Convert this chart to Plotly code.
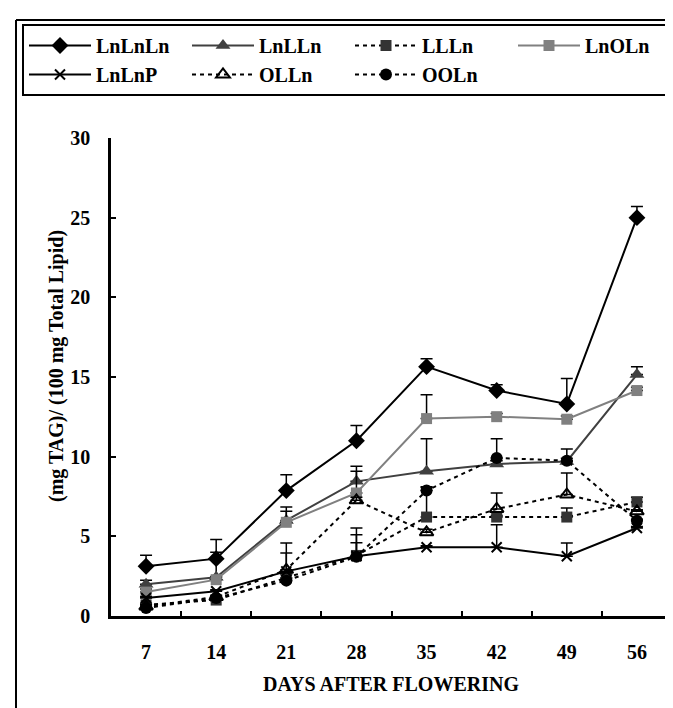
import plotly.graph_objects as go

days = ["7", "14", "21", "28", "35", "42", "49", "56"]

LnLnLn = [3.12, 3.6, 7.87, 11.0, 15.65, 14.15, 13.31, 25.0]
LnLnLn_err = [0.7, 1.2, 1.0, 0.95, 0.5, 0.37, 1.6, 0.7]

LnLLn = [2.0, 2.43, 6.0, 8.45, 9.08, 9.54, 9.7, 15.15]
LnLLn_err = [0.25, 1.57, 0.84, 0.95, 2.05, 0.2, 0.2, 0.5]

LLLn = [0.7, 1.0, 2.4, 3.8, 6.21, 6.21, 6.21, 7.16]
LLLn_err = [0.1, 0.1, 0.2, 1.3, 1.9, 0.1, 0.57, 0.3]

LnOLn = [1.5, 2.28, 5.88, 7.72, 12.39, 12.51, 12.35, 14.15]
LnOLn_err = [0.2, 0.2, 0.7, 1.36, 1.5, 0.2, 0.2, 0.2]

LnLnP = [1.13, 1.55, 2.8, 3.75, 4.31, 4.31, 3.75, 5.52]
LnLnP_err = [0.1, 0.1, 1.78, 0.85, 0.1, 1.42, 0.83, 0.1]

OLLn = [0.6, 1.2, 2.9, 7.26, 5.25, 6.72, 7.62, 6.57]
OLLn_err = [0.1, 0.1, 1.05, 0.2, 0.2, 1.0, 1.36, 0.1]

OOLn = [0.5, 1.13, 2.22, 3.72, 7.87, 9.92, 9.75, 5.98]
OOLn_err = [0.1, 0.1, 0.1, 1.8, 0.2, 1.2, 0.73, 0.1]

FONT = "Liberation Serif"

series = [
    ("LnLnLn", LnLnLn, LnLnLn_err, dict(color="black", width=2, dash="solid"),
     dict(symbol="diamond", size=13, color="black")),
    ("LnLLn", LnLLn, LnLLn_err, dict(color="#404040", width=2, dash="solid"),
     dict(symbol="triangle-up", size=13, color="#404040")),
    ("LLLn", LLLn, LLLn_err, dict(color="black", width=2, dash="4px,4px"),
     dict(symbol="square", size=11, color="#333333")),
    ("LnOLn", LnOLn, LnOLn_err, dict(color="#808080", width=2, dash="solid"),
     dict(symbol="square", size=11, color="#808080")),
    ("LnLnP", LnLnP, LnLnP_err, dict(color="black", width=2, dash="solid"),
     dict(symbol="x-thin", size=10, color="black", line=dict(width=2, color="black"))),
    ("OLLn", OLLn, OLLn_err, dict(color="black", width=2, dash="4px,4px"),
     dict(symbol="triangle-up-open", size=12, color="black", line=dict(width=2, color="black"))),
    ("OOLn", OOLn, OOLn_err, dict(color="black", width=2, dash="4px,4px"),
     dict(symbol="circle", size=12, color="black")),
]

fig = go.Figure()
for name, vals, err, line, marker in series:
    fig.add_trace(go.Scatter(
        x=days, y=vals, name=name, mode="lines+markers",
        line=line, marker=marker,
        error_y=dict(type="data", array=err, arrayminus=[0] * len(err),
                     symmetric=False, color="black", thickness=1.5, width=6),
    ))

W, H = 673, 708
L, R, T, B = 103, 9, 130, 100
pw, ph = W - L - R, H - T - B


def px_x(p):
    return (p - L) / pw


def px_y(p):
    return (H - B - p) / ph


fig.update_layout(
    width=W, height=H,
    margin=dict(l=L, r=R, t=T, b=B),
    paper_bgcolor="white", plot_bgcolor="white",
    font=dict(family=FONT, size=20, color="black", weight="bold"),
    showlegend=True,
    legend=dict(
        orientation="h", x=px_x(14), y=px_y(16), xanchor="left", yanchor="top",
        bordercolor="black", borderwidth=2, bgcolor="white",
        entrywidth=86, entrywidthmode="pixels", itemwidth=62,
        font=dict(family=FONT, size=20, color="black", weight="bold"),
        traceorder="normal",
    ),
    xaxis=dict(
        type="category", range=[-0.5, 7.5], showgrid=False, zeroline=False,
        showline=True, linecolor="black", linewidth=2.5,
        ticks="inside", ticklen=5, tickwidth=2, tickcolor="black",
        tickson="boundaries", ticklabelstandoff=16,
        tickfont=dict(family=FONT, size=20, color="black", weight="bold"),
    ),
    yaxis=dict(
        range=[0, 30], tickvals=[0, 5, 10, 15, 20, 25, 30], showgrid=False, zeroline=False,
        showline=True, linecolor="black", linewidth=2.5,
        ticks="inside", ticklen=5, tickwidth=2, tickcolor="black",
        ticklabelstandoff=14,
        tickfont=dict(family=FONT, size=20, color="black", weight="bold"),
    ),
    annotations=[
        dict(text="DAYS AFTER FLOWERING", xref="paper", yref="paper",
             x=px_x(383), y=px_y(676), showarrow=False, xanchor="center", yanchor="middle",
             font=dict(family=FONT, size=20, color="black", weight="bold")),
        dict(text="(mg TAG)/ (100 mg Total Lipid)", xref="paper", yref="paper",
             x=px_x(48), y=px_y(358), showarrow=False, textangle=-90,
             xanchor="center", yanchor="middle",
             font=dict(family=FONT, size=20, color="black", weight="bold")),
    ],
    shapes=[
        dict(type="line", xref="paper", yref="paper", x0=px_x(8), x1=px_x(8),
             y0=px_y(12), y1=px_y(708), line=dict(color="black", width=2)),
        dict(type="line", xref="paper", yref="paper", x0=px_x(8), x1=px_x(669),
             y0=px_y(12), y1=px_y(12), line=dict(color="black", width=2)),
    ],
)

fig.write_html("out.html")
